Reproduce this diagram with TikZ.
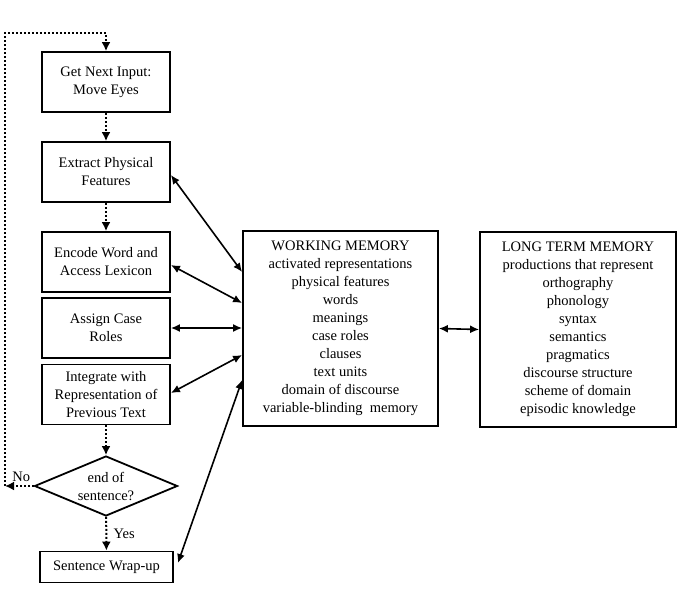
\documentclass[tikz,border=0pt]{standalone}
\usepackage{fontspec}
\setmainfont{Liberation Serif}
\usepackage{tikz}
\usetikzlibrary{shapes.geometric,arrows.meta}

\tikzset{
    procbox/.style={draw,line width=1.8pt,align=center,minimum width=128pt,minimum height=60pt,inner sep=2pt},
    membox/.style={draw,line width=1.8pt,align=center,minimum width=195pt,minimum height=195pt,inner sep=2pt},
    decision/.style={draw,diamond,line width=1.8pt,align=center,minimum width=143pt,minimum height=60pt,aspect=2.4,inner sep=0pt},
    flow/.style={line width=2pt,dash pattern=on 2pt off 2pt,-{Latex[length=9pt,width=9pt]}},
    memlink/.style={line width=1.6pt,{Latex[length=9pt,width=8pt]}-{Latex[length=9pt,width=8pt]}}
}

\begin{document}
\begin{tikzpicture}[x=1pt,y=-1pt,font=\fontsize{14.5}{18}\selectfont]
    \useasboundingbox (0,0) rectangle (681,590);

    % processing steps
    \node[procbox] (input) at (106,82) {Get Next Input:\\Move Eyes};
    \node[procbox] (extract) at (106,172) {Extract Physical\\Features};
    \node[procbox] (encode) at (106,262) {Encode Word and\\Access Lexicon};
    \node[procbox] (assign) at (106,328) {Assign Case\\Roles};
    \node[procbox] (integrate) at (106,394.5) {Integrate with\\Representation of\\Previous Text};
    \node[decision] (endsent) at (106,486) {end of\\sentence?};
    \node[procbox,minimum width=133pt,minimum height=31pt] (wrapup) at (106.5,567) {Sentence Wrap-up};

    % memories
    \node[membox] (wm) at (340.5,328.5) {WORKING MEMORY\\activated representations\\physical features\\words\\meanings\\case roles\\clauses\\text units\\domain of discourse\\variable-blinding\ \ memory};
    \node[membox,minimum width=196pt] (ltm) at (578,329.5) {LONG TERM MEMORY\\productions that represent\\orthography\\phonology\\syntax\\semantics\\pragmatics\\discourse structure\\scheme of domain\\episodic knowledge};

    % control flow
    \coordinate (noend) at (5,486);
    \coordinate (looptop) at (106,33);
    \draw[flow] (input) -- (extract);
    \draw[flow] (extract) -- (encode);
    \draw[flow] (integrate) -- (endsent);
    \draw[flow] (endsent) -- node[right=3pt]{Yes} (wrapup);
    \draw[flow] (endsent.west) -- node[above,xshift=2pt]{No} (noend);
    \draw[flow] (noend) |- (looptop) -- (input.north);

    % links with working memory
    \draw[memlink] ([yshift=-3pt]extract.east) -- ([yshift=56.5pt]wm.west);
    \draw[memlink] ([yshift=-3pt]encode.east) -- ([yshift=25.5pt]wm.west);
    \draw[memlink] (assign.east) -- (wm.west |- assign.east);
    \draw[memlink] ([yshift=1.5pt]integrate.east) -- ([yshift=-26.5pt]wm.west);
    \draw[memlink] ([yshift=4pt,xshift=4pt]wrapup.east) -- ([yshift=-51.5pt]wm.west);
    \draw[memlink] (wm.east) -- (ltm.west);
\end{tikzpicture}
\end{document}
